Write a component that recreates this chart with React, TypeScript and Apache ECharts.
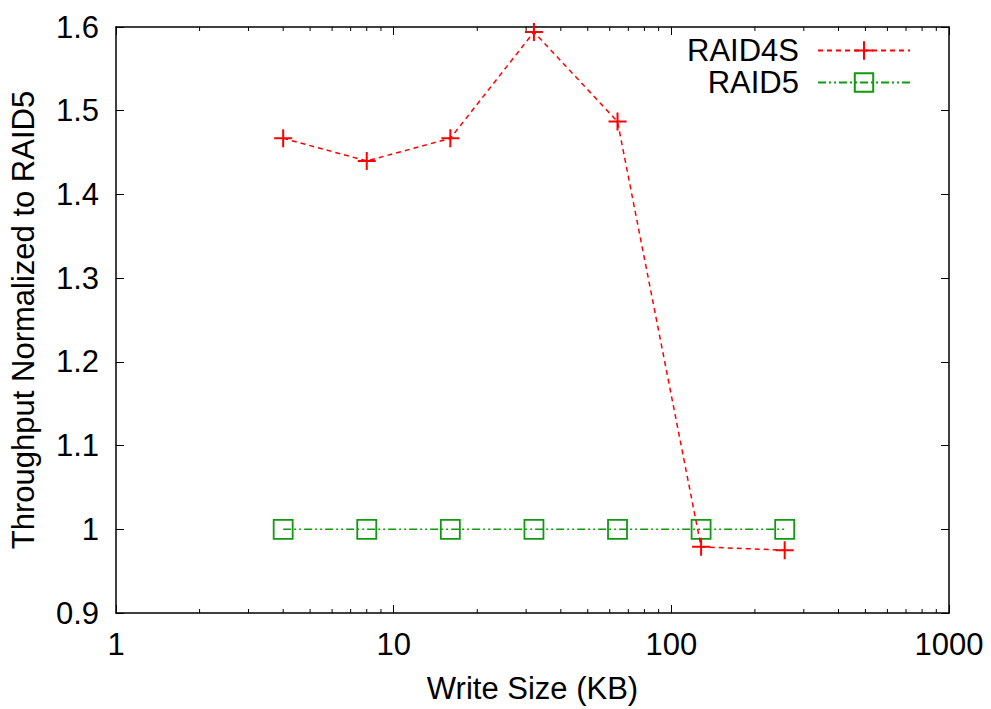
import React, { useEffect, useRef } from "react";
import * as echarts from "echarts";

const writeSizes = [4, 8, 16, 32, 64, 128, 256];
const raid4s = [1.467, 1.44, 1.467, 1.594, 1.487, 0.979, 0.975];
const raid5 = [1, 1, 1, 1, 1, 1, 1];
const minorTickValues = [2, 3, 4, 5, 6, 7, 8, 9, 20, 30, 40, 50, 60, 70, 80, 90, 200, 300, 400, 500, 600, 700, 800, 900];

const FONT = "Liberation Sans";
const PLUS = "path://M0,-10L0,10M-10,0L10,0";

export default function App() {
  const ref = useRef<HTMLDivElement>(null);
  useEffect(() => {
    if (!ref.current) return;
    const chart = echarts.init(ref.current, null, { renderer: "svg" });
    const axisLine = { show: true, lineStyle: { color: "#000", width: 1.5 } };
    const xBase = { type: "log", logBase: 10, min: 1, max: 1000, splitLine: { show: false }, axisLine, axisTick: { show: true, inside: true, length: 8, lineStyle: { color: "#000", width: 1 } } };
    const yBase = { type: "value", min: 0.9, max: 1.6, interval: 0.1, splitLine: { show: false }, axisLine, axisTick: { show: true, inside: true, length: 8, lineStyle: { color: "#000", width: 1 } } };
    chart.setOption({
      animation: false,
      backgroundColor: "#fff",
      grid: { left: 115, right: 42, top: 27, bottom: 93 },
      xAxis: [
        { ...xBase, position: "bottom", name: "Write Size (KB)", nameLocation: "middle", nameGap: 60, nameTextStyle: { fontFamily: FONT, fontSize: 31, color: "#000" }, axisLabel: { fontFamily: FONT, fontSize: 31, color: "#000", margin: 16, formatter: (v: number) => String(Math.round(v)) } },
        { ...xBase, position: "top", axisLabel: { show: false } },
      ],
      yAxis: [
        { ...yBase, position: "left", name: "Throughput Normalized to RAID5", nameLocation: "middle", nameGap: 77, nameTextStyle: { fontFamily: FONT, fontSize: 31, color: "#000" }, axisLabel: { fontFamily: FONT, fontSize: 31, color: "#000", margin: 17 } },
        { ...yBase, position: "right", axisLabel: { show: false } },
      ],
      legend: {
        data: ["RAID4S", "RAID5"],
        orient: "vertical",
        align: "right",
        right: 80,
        top: 35,
        padding: 0,
        itemGap: 1,
        itemWidth: 92,
        itemHeight: 23,
        textStyle: { fontFamily: FONT, fontSize: 31, color: "#000", width: 140, align: "right", lineHeight: 30, padding: [0, 14, 0, 0] },
      },
      series: [
        {
          name: "RAID5",
          type: "line",
          z: 2,
          data: writeSizes.map((x, i) => [x, raid5[i]]),
          symbol: "rect",
          symbolSize: 19,
          itemStyle: { color: "rgba(0,0,0,0)", borderColor: "#119911", borderWidth: 1.8 },
          lineStyle: { color: "#119911", width: 1.5, type: [8, 3, 2, 3, 2, 3] },
        },
        {
          name: "RAID4S",
          type: "line",
          z: 3,
          data: writeSizes.map((x, i) => [x, raid4s[i]]),
          symbol: PLUS,
          symbolSize: 18,
          itemStyle: { color: "rgba(0,0,0,0)", borderColor: "#ff0000", borderWidth: 2 },
          lineStyle: { color: "#ff0000", width: 1.5, type: [5, 4] },
        },
        {
          name: "minorTicks",
          type: "custom",
          silent: true,
          z: 1,
          data: minorTickValues.map((v) => [v, 0.9]),
          renderItem: (params: any, api: any) => {
            const v = api.value(0);
            const b = api.coord([v, 0.9]);
            const t = api.coord([v, 1.6]);
            const style = { stroke: "#000", lineWidth: 1 };
            return {
              type: "group",
              children: [
                { type: "line", shape: { x1: b[0], y1: b[1], x2: b[0], y2: b[1] - 4 }, style },
                { type: "line", shape: { x1: t[0], y1: t[1], x2: t[0], y2: t[1] + 4 }, style },
              ],
            };
          },
        },
      ],
    });
    return () => chart.dispose();
  }, []);
  return <div ref={ref} style={{ position: "fixed", left: 0, top: 0, width: 991, height: 709 }} />;
}
